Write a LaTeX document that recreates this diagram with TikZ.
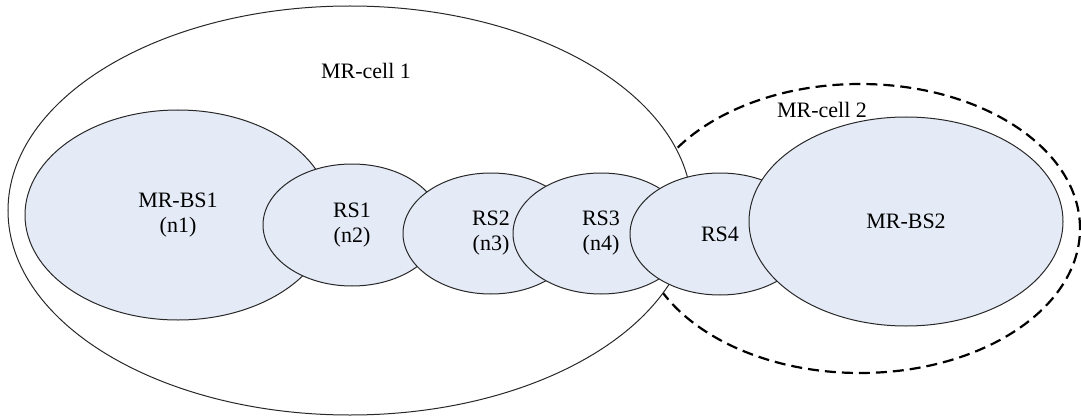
\documentclass[tikz,border=0pt]{standalone}
\usepackage{fontspec}
\setmainfont{Liberation Serif}
\usetikzlibrary{shapes.geometric}
\definecolor{cellfill}{RGB}{228,234,246}
\definecolor{edge}{RGB}{40,40,40}
\begin{document}
\begin{tikzpicture}[x=0.5pt,y=-0.5pt,
  every node/.style={font=\fontsize{11}{12.5}\selectfont, align=center, inner sep=0pt},
  station/.style={ellipse, draw=edge, line width=0.5pt, fill=cellfill},
  bigcell/.style={ellipse, draw=edge, line width=0.5pt, fill=white},
  dashcell/.style={ellipse, draw=black, line width=1.1pt, dash pattern=on 5.5pt off 3pt}]
\useasboundingbox (0,0) rectangle (1081,417);
\node[dashcell, minimum width=220pt, minimum height=144.5pt] (cell2) at (860,228.5) {};
\node[bigcell, minimum width=342pt, minimum height=204.5pt] (cell1) at (350,210.5) {};
\node[station, minimum width=153pt, minimum height=105pt] (bs1) at (178,215) {MR-BS1\\(n1)};
\node[station, minimum width=89pt, minimum height=61pt] (rs1) at (352,225) {RS1\\(n2)};
\node[station, minimum width=88pt, minimum height=60.5pt] (rs2) at (491,233.5) {RS2\\(n3)};
\node[station, minimum width=88pt, minimum height=60.5pt] (rs3) at (601,233.5) {RS3\\(n4)};
\node[station, minimum width=90pt, minimum height=61pt] (rs4) at (720,234) {RS4};
\node[station, minimum width=157pt, minimum height=104.5pt] (bs2) at (906,221.5) {MR-BS2};
\node (lab1) at (366,71) {MR-cell 1};
\node (lab2) at (822,110) {MR-cell 2};
\end{tikzpicture}
\end{document}
